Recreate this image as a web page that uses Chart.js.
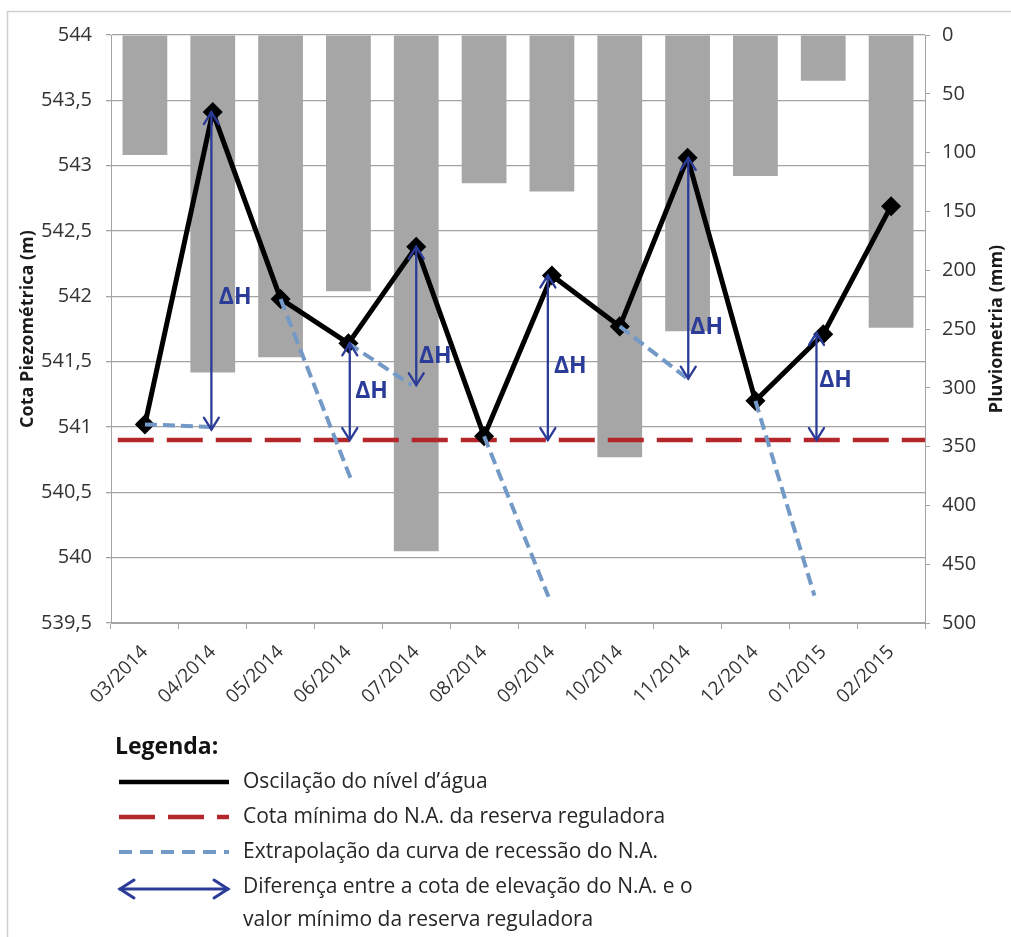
<!DOCTYPE html>
<html>
<head>
<meta charset="utf-8">
<script src="https://cdn.jsdelivr.net/npm/chart.js@4.4.1/dist/chart.umd.min.js"></script>
<style>
  html, body { margin: 0; padding: 0; background: #ffffff; }
  #wrap { position: relative; width: 1011px; height: 937px; }
</style>
</head>
<body>
<div id="wrap"><canvas id="grafico" width="1011" height="937"></canvas></div>
<script>
// Meses monitorados
const meses = ['03/2014', '04/2014', '05/2014', '06/2014', '07/2014', '08/2014',
               '09/2014', '10/2014', '11/2014', '12/2014', '01/2015', '02/2015'];

// Pluviometria mensal (mm)
const pluviometria = [102, 287, 274, 218, 439, 126, 133, 359, 252, 120, 39, 249];

// Cota piezométrica do nível d'água (m)
const nivelAgua = [541.02, 543.41, 541.98, 541.64, 542.38, 540.93,
                   542.16, 541.77, 543.06, 541.20, 541.71, 542.69];

// Cota mínima do N.A. da reserva reguladora (m)
const cotaMinima = 540.9;

// Extrapolação das curvas de recessão: mês de início e ponto final (posição do mês, cota)
const recessaoInicio = [0, 2, 3, 5, 7, 9];
const recessaoFimMes = [1.0, 3.03, 3.93, 5.95, 8.0, 9.87];
const recessaoFimCota = [541.0, 540.61, 541.32, 539.70, 541.37, 539.71];

// Setas de ΔH: posição do mês, cota superior e cota inferior
const deltaHMes = [0.98, 3.02, 4.0, 5.94, 8.01, 9.9];
const deltaHTopo = [543.41, 541.64, 542.38, 542.16, 543.06, 541.72];
const deltaHBase = [540.98, 540.9, 541.32, 540.9, 541.37, 540.9];
const rotuloDeltaHMes = [1.09, 3.1, 4.04, 6.03, 8.04, 9.94];
const rotuloDeltaHCota = [541.99, 541.27, 541.54, 541.46, 541.76, 541.36];

// Eixos
const eixoCotaMin = 539.5, eixoCotaMax = 544, eixoCotaPasso = 0.5;
const eixoChuvaMin = 0, eixoChuvaMax = 500, eixoChuvaPasso = 50;

const FONTE = '"Open Sans", "DejaVu Sans", sans-serif';
const AZUL_ESCURO = '#2b3c98';
const AZUL_CLARO = '#7399c6';
const VERMELHO = '#b3262b';
const CINZA_GRADE = '#a3a3a3';
const TEXTO = '#333333';

const serieNivel = nivelAgua.map((v, i) => ({ x: i, y: v }));
const seriesRecessao = recessaoInicio.map((ini, k) => ([
  { x: ini, y: nivelAgua[ini] },
  { x: recessaoFimMes[k], y: recessaoFimCota[k] }
]));

function ponta(ctx, tx, ty, fx, fy, w, l) {
  const a = Math.atan2(ty - fy, tx - fx);
  const c = Math.cos(a), s = Math.sin(a);
  ctx.beginPath();
  ctx.moveTo(tx - l * c - w * s, ty - l * s + w * c);
  ctx.lineTo(tx, ty);
  ctx.lineTo(tx - l * c + w * s, ty - l * s - w * c);
  ctx.stroke();
}
function setaDupla(ctx, x1, y1, x2, y2, w, l) {
  ctx.beginPath();
  ctx.moveTo(x1, y1);
  ctx.lineTo(x2, y2);
  ctx.stroke();
  ponta(ctx, x1, y1, x2, y2, w, l);
  ponta(ctx, x2, y2, x1, y1, w, l);
}

const anotacoes = {
  id: 'anotacoes',
  beforeDraw(chart) {
    const ctx = chart.ctx;
    ctx.save();
    ctx.fillStyle = '#ffffff';
    ctx.fillRect(0, 0, chart.width, chart.height);
    ctx.strokeStyle = '#cfcfcf';
    ctx.lineWidth = 1.5;
    ctx.strokeRect(7.5, 11.5, chart.width + 10, chart.height + 10);
    ctx.restore();
  },
  afterDatasetsDraw(chart) {
    const ctx = chart.ctx;
    const xs = chart.scales.x2, ys = chart.scales.y;
    ctx.save();
    ctx.strokeStyle = AZUL_ESCURO;
    ctx.fillStyle = AZUL_ESCURO;
    ctx.lineWidth = 2.3;
    ctx.lineCap = 'round';
    deltaHMes.forEach((m, i) => {
      const x = xs.getPixelForValue(m);
      setaDupla(ctx, x, ys.getPixelForValue(deltaHTopo[i]), x, ys.getPixelForValue(deltaHBase[i]), 7.5, 12);
    });
    ctx.font = 'bold 23px ' + FONTE;
    ctx.textAlign = 'left';
    ctx.textBaseline = 'middle';
    rotuloDeltaHMes.forEach((m, i) => {
      ctx.fillText('ΔH', xs.getPixelForValue(m), ys.getPixelForValue(rotuloDeltaHCota[i]));
    });
    ctx.restore();
  },
  afterDraw(chart) {
    const ctx = chart.ctx;
    const area = chart.chartArea;
    ctx.save();
    // Título do eixo da direita
    ctx.fillStyle = '#1a1a1a';
    ctx.font = 'bold 18px ' + FONTE;
    ctx.textAlign = 'center';
    ctx.textBaseline = 'middle';
    ctx.translate(997, (area.top + area.bottom) / 2);
    ctx.rotate(-Math.PI / 2);
    ctx.fillText('Pluviometria (mm)', 0, 0);
    ctx.restore();

    // Legenda
    ctx.save();
    const x0 = 119, x1 = 229, xt = 243;
    ctx.fillStyle = '#111111';
    ctx.font = 'bold 23px ' + FONTE;
    ctx.textAlign = 'left';
    ctx.textBaseline = 'middle';
    ctx.fillText('Legenda:', 115, 747);

    const linhas = [782, 817, 852, 887, 920];
    ctx.lineCap = 'butt';
    // nível d'água
    ctx.strokeStyle = '#000000';
    ctx.lineWidth = 4.5;
    ctx.beginPath(); ctx.moveTo(x0, linhas[0]); ctx.lineTo(x1, linhas[0]); ctx.stroke();
    // cota mínima
    ctx.strokeStyle = VERMELHO;
    ctx.lineWidth = 4.5;
    ctx.setLineDash([36, 13]);
    ctx.beginPath(); ctx.moveTo(x0, linhas[1]); ctx.lineTo(x1, linhas[1]); ctx.stroke();
    // recessão
    ctx.strokeStyle = AZUL_CLARO;
    ctx.lineWidth = 4;
    ctx.setLineDash([13, 8]);
    ctx.beginPath(); ctx.moveTo(x0, linhas[2]); ctx.lineTo(x1, linhas[2]); ctx.stroke();
    // ΔH
    ctx.setLineDash([]);
    ctx.strokeStyle = AZUL_ESCURO;
    ctx.lineWidth = 3;
    ctx.lineCap = 'round';
    setaDupla(ctx, x0 + 1, linhas[3] + 2, x1 - 1, linhas[3] + 2, 9, 14);

    ctx.fillStyle = '#262626';
    ctx.font = '21px ' + FONTE;
    ctx.fillText('Oscilação do nível d\u2019água', xt, linhas[0]);
    ctx.fillText('Cota mínima do N.A. da reserva reguladora', xt, linhas[1]);
    ctx.fillText('Extrapolação da curva de recessão do N.A.', xt, linhas[2]);
    ctx.fillText('Diferença entre a cota de elevação do N.A. e o', xt, linhas[3]);
    ctx.fillText('valor mínimo da reserva reguladora', xt, linhas[4]);
    ctx.restore();
  }
};

const formatoVirgula = v => String(Math.round(v * 10) / 10).replace('.', ',');

new Chart(document.getElementById('grafico'), {
  type: 'bar',
  data: {
    labels: meses,
    datasets: [
      ...seriesRecessao.map((pts, k) => ({
        type: 'line',
        label: 'Extrapolação ' + (k + 1),
        data: pts,
        xAxisID: 'x2',
        yAxisID: 'y',
        borderColor: AZUL_CLARO,
        borderWidth: 4,
        borderDash: [12, 6],
        pointRadius: 0,
        fill: false,
        order: 0
      })),
      {
        type: 'line',
        label: 'Oscilação do nível d\u2019água',
        data: serieNivel,
        xAxisID: 'x2',
        yAxisID: 'y',
        borderColor: '#000000',
        borderWidth: 5,
        pointStyle: 'rectRot',
        pointRadius: 6.5,
        pointBackgroundColor: '#000000',
        pointBorderColor: '#000000',
        tension: 0,
        fill: false,
        order: 1
      },
      {
        type: 'line',
        label: 'Cota mínima',
        data: [{ x: -0.4, y: cotaMinima }, { x: 11.5, y: cotaMinima }],
        xAxisID: 'x2',
        yAxisID: 'y',
        borderColor: VERMELHO,
        borderWidth: 4.5,
        borderDash: [36, 13],
        pointRadius: 0,
        fill: false,
        order: 2
      },
      {
        type: 'bar',
        label: 'Pluviometria',
        data: pluviometria,
        xAxisID: 'x',
        yAxisID: 'y2',
        backgroundColor: '#a6a6a6',
        borderWidth: 0,
        grouped: false,
        barPercentage: 0.66,
        categoryPercentage: 1.0,
        order: 3
      }
    ]
  },
  options: {
    responsive: false,
    animation: false,
    devicePixelRatio: 1,
    layout: { padding: { top: 35, left: 0, right: 0, bottom: 0 } },
    plugins: { legend: { display: false }, tooltip: { enabled: false } },
    scales: {
      x: {
        type: 'category',
        position: 'bottom',
        offset: true,
        grid: { display: true, drawOnChartArea: false, offset: true, tickLength: 6, color: CINZA_GRADE },
        border: { display: true, color: CINZA_GRADE },
        ticks: { minRotation: 45, maxRotation: 45, padding: 12, color: TEXTO, font: { family: FONTE, size: 19 } },
        afterFit(s) { s.height = 314; }
      },
      x2: { type: 'linear', display: false, offset: false, beginAtZero: false, min: -0.5, max: 11.5 },
      y: {
        position: 'left',
        min: eixoCotaMin,
        max: eixoCotaMax,
        ticks: { stepSize: eixoCotaPasso, padding: 14, color: TEXTO, font: { family: FONTE, size: 20 }, callback: formatoVirgula },
        grid: { color: CINZA_GRADE, lineWidth: 1.3, tickLength: 5 },
        border: { display: true, color: CINZA_GRADE },
        title: { display: true, text: 'Cota Piezométrica (m)', color: '#1a1a1a', font: { family: FONTE, size: 18, weight: 'bold' }, padding: { top: 17, bottom: 0 } },
        afterFit(s) { s.width = 111; }
      },
      y2: {
        position: 'right',
        reverse: true,
        min: eixoChuvaMin,
        max: eixoChuvaMax,
        ticks: { stepSize: eixoChuvaPasso, padding: 12, color: TEXTO, font: { family: FONTE, size: 20 } },
        grid: { drawOnChartArea: false, color: CINZA_GRADE, tickLength: 5 },
        border: { display: true, color: CINZA_GRADE },
        afterFit(s) { s.width = 86; }
      }
    }
  },
  plugins: [anotacoes]
});
</script>
</body>
</html>
